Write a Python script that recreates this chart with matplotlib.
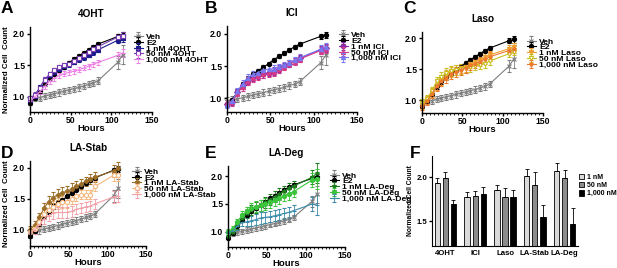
import matplotlib
matplotlib.use("Agg")
import matplotlib.pyplot as plt
from matplotlib.ticker import MultipleLocator

plt.rcParams["font.family"] = ["Liberation Sans", "DejaVu Sans"]
plt.rcParams["font.weight"] = "bold"
plt.rcParams["axes.labelweight"] = "bold"
plt.rcParams["axes.titleweight"] = "bold"

# time points (hours)
HOURS = [0, 6, 12, 18, 24, 30, 36, 42, 48, 54, 60, 66, 72, 78, 84, 108, 114]

# shared controls
VEH = [0.96, 0.98, 0.99, 1.01, 1.03, 1.05, 1.07, 1.09, 1.11, 1.13, 1.15, 1.17, 1.20, 1.22, 1.26, 1.55, 1.67]
VEH_ERR = [0.06, 0.05, 0.05, 0.05, 0.05, 0.05, 0.05, 0.05, 0.05, 0.05, 0.05, 0.05, 0.05, 0.05, 0.05, 0.10, 0.15]
E2 = [0.90, 0.98, 1.10, 1.22, 1.30, 1.37, 1.43, 1.48, 1.54, 1.60, 1.65, 1.70, 1.75, 1.80, 1.84, 1.96, 1.98]
E2_ERR = [0.03, 0.03, 0.04, 0.04, 0.04, 0.04, 0.03, 0.03, 0.03, 0.03, 0.03, 0.03, 0.03, 0.03, 0.03, 0.04, 0.05]

# A: 4OHT
OHT_1 = [0.95, 1.02, 1.15, 1.27, 1.35, 1.40, 1.45, 1.49, 1.52, 1.56, 1.60, 1.63, 1.67, 1.71, 1.75, 1.90, 1.93]
OHT_50 = [0.98, 1.03, 1.14, 1.27, 1.36, 1.42, 1.47, 1.50, 1.53, 1.57, 1.62, 1.66, 1.71, 1.76, 1.80, 1.95, 1.97]
OHT_1000 = [0.93, 1.00, 1.08, 1.17, 1.25, 1.30, 1.34, 1.37, 1.39, 1.41, 1.43, 1.46, 1.49, 1.52, 1.55, 1.66, 1.70]
OHT_ERR = [0.04, 0.04, 0.04, 0.04, 0.04, 0.04, 0.04, 0.04, 0.04, 0.04, 0.04, 0.04, 0.04, 0.04, 0.04, 0.05, 0.06]

# B: ICI
ICI_1 = [0.92, 0.95, 1.10, 1.20, 1.28, 1.33, 1.36, 1.38, 1.40, 1.42, 1.46, 1.50, 1.54, 1.58, 1.62, 1.75, 1.78]
ICI_50 = [0.93, 0.94, 1.08, 1.18, 1.27, 1.32, 1.35, 1.37, 1.39, 1.41, 1.45, 1.49, 1.53, 1.57, 1.61, 1.74, 1.77]
ICI_1000 = [0.90, 0.96, 1.11, 1.22, 1.32, 1.37, 1.40, 1.44, 1.45, 1.46, 1.49, 1.52, 1.55, 1.59, 1.63, 1.76, 1.80]
ICI_ERR = [0.05, 0.05, 0.05, 0.06, 0.06, 0.06, 0.06, 0.06, 0.06, 0.06, 0.05, 0.05, 0.05, 0.05, 0.05, 0.06, 0.06]

# C: Laso
LASO_1 = [0.92, 1.00, 1.12, 1.24, 1.33, 1.40, 1.46, 1.49, 1.51, 1.54, 1.58, 1.62, 1.65, 1.69, 1.73, 1.83, 1.86]
LASO_50 = [0.95, 1.02, 1.14, 1.30, 1.38, 1.43, 1.47, 1.49, 1.50, 1.51, 1.53, 1.55, 1.57, 1.59, 1.63, 1.75, 1.78]
LASO_1000 = [0.90, 0.98, 1.10, 1.22, 1.30, 1.36, 1.42, 1.45, 1.48, 1.52, 1.56, 1.59, 1.62, 1.66, 1.70, 1.80, 1.82]
LASO_ERR = [0.06, 0.06, 0.07, 0.08, 0.08, 0.08, 0.08, 0.08, 0.08, 0.08, 0.07, 0.07, 0.07, 0.07, 0.07, 0.06, 0.06]

# D: LA-Stab
STAB_1 = [1.00, 1.08, 1.20, 1.35, 1.45, 1.52, 1.57, 1.60, 1.62, 1.66, 1.70, 1.74, 1.78, 1.82, 1.85, 1.95, 2.00]
STAB_50 = [0.97, 1.02, 1.12, 1.25, 1.32, 1.37, 1.42, 1.45, 1.45, 1.50, 1.55, 1.57, 1.57, 1.57, 1.70, 1.88, 1.88]
STAB_1000 = [0.95, 1.00, 1.08, 1.18, 1.23, 1.27, 1.28, 1.28, 1.28, 1.30, 1.33, 1.35, 1.37, 1.38, 1.42, 1.53, 1.55]
STAB_ERR = [0.06, 0.06, 0.07, 0.08, 0.09, 0.09, 0.09, 0.09, 0.09, 0.09, 0.08, 0.08, 0.08, 0.08, 0.08, 0.09, 0.10]

# E: LA-Deg
DEG_1 = [0.93, 1.00, 1.12, 1.25, 1.33, 1.39, 1.44, 1.48, 1.53, 1.58, 1.63, 1.68, 1.73, 1.78, 1.82, 1.98, 2.05]
DEG_50 = [1.00, 1.05, 1.18, 1.30, 1.37, 1.42, 1.45, 1.48, 1.50, 1.53, 1.57, 1.60, 1.65, 1.68, 1.72, 1.93, 1.95]
DEG_1000 = [0.98, 1.02, 1.10, 1.17, 1.18, 1.20, 1.22, 1.25, 1.26, 1.27, 1.29, 1.31, 1.33, 1.35, 1.38, 1.50, 1.48]
DEG_ERR = [0.05, 0.05, 0.06, 0.07, 0.08, 0.09, 0.10, 0.10, 0.10, 0.10, 0.10, 0.10, 0.10, 0.10, 0.10, 0.12, 0.18]

# F: endpoint bars
DRUGS = ["4OHT", "ICI", "Laso", "LA-Stab", "LA-Deg"]
DOSES = ["1 nM", "50 nM", "1,000 nM"]
BAR_1 = [1.93, 1.78, 1.85, 2.01, 2.07]
BAR_50 = [1.99, 1.79, 1.78, 1.91, 1.99]
BAR_1000 = [1.70, 1.81, 1.77, 1.55, 1.47]
BAR_1_ERR = [0.06, 0.05, 0.06, 0.08, 0.09]
BAR_50_ERR = [0.07, 0.05, 0.10, 0.15, 0.09]
BAR_1000_ERR = [0.04, 0.08, 0.09, 0.13, 0.18]

W, H = 617, 268


def rect(left, top, right, bottom):
    return [left / W, 1 - bottom / H, (right - left) / W, (bottom - top) / H]


def growth_panel(fig, box, title, series, ylim, leg_at, ylabel=False):
    ax = fig.add_axes(rect(*box))
    for label, y, err, color, marker, mfc in series:
        ax.errorbar(HOURS, y, yerr=err, color=color, marker=marker, ms=3,
                    mfc=mfc, mec=color, mew=0.8, lw=0.8, elinewidth=0.6,
                    capsize=1.5, capthick=0.6, label=label, clip_on=False)
    ax.set_xlim(0, 150)
    ax.set_ylim(*ylim)
    ax.set_yticks([1.0, 1.5, 2.0])
    ax.xaxis.set_major_locator(MultipleLocator(50))
    ax.xaxis.set_minor_locator(MultipleLocator(5))
    ax.tick_params(labelsize=6.2, width=1, length=2.5, pad=1)
    ax.tick_params(axis="x", pad=0.5)
    ax.tick_params(which="minor", width=0.6, length=1.5)
    for s in ["top", "right"]:
        ax.spines[s].set_visible(False)
    for s in ["left", "bottom"]:
        ax.spines[s].set_linewidth(1)
    ax.set_xlabel("Hours", fontsize=6.8, labelpad=-0.5)
    if ylabel:
        ax.set_ylabel("Normalized Cell  Count", fontsize=5.7, labelpad=2)
    ax.set_title(title, fontsize=7.2, pad=7.5)
    ax.legend(loc="upper left", bbox_to_anchor=leg_at, frameon=False,
              fontsize=6.1, handlelength=1.1, handletextpad=0.35,
              labelspacing=-0.25, borderpad=0, borderaxespad=0)
    return ax


fig = plt.figure(figsize=(W / 100, H / 100), dpi=100)

base = [("Veh", VEH, VEH_ERR, "#7f7f7f", "x", "#7f7f7f"),
        ("E2", E2, E2_ERR, "#000000", "o", "#000000")]

growth_panel(fig, (30, 27, 152, 112), "4OHT", base + [
    ("1 nM 4OHT", OHT_1, OHT_ERR, "#1c1c8c", "s", "#1c1c8c"),
    ("50 nM 4OHT", OHT_50, OHT_ERR, "#7a3fb0", "s", "white"),
    ("1,000 nM 4OHT", OHT_1000, OHT_ERR, "#ee82e6", "_", "#ee82e6"),
], (0.76, 2.11), (0.85, 0.93), ylabel=True)

growth_panel(fig, (227, 26, 357, 112), "ICI", base + [
    ("1 nM ICI", ICI_1, ICI_ERR, "#8a2aa8", "D", "#8a2aa8"),
    ("50 nM ICI", ICI_50, ICI_ERR, "#d63a86", "^", "#d63a86"),
    ("1,000 nM ICI", ICI_1000, ICI_ERR, "#7878f0", "^", "#7878f0"),
], (0.79, 2.12), (0.86, 0.94))

growth_panel(fig, (422, 32, 543, 113), "Laso", base + [
    ("1 nM Laso", LASO_1, LASO_ERR, "#f0a030", "v", "#f0a030"),
    ("50 nM Laso", LASO_50, LASO_ERR, "#c8c020", "v", "white"),
    ("1,000 nM Laso", LASO_1000, LASO_ERR, "#ec7a2a", "*", "#ec7a2a"),
], (0.79, 2.1), (0.865, 0.93))

growth_panel(fig, (30, 161, 146, 246), "LA-Stab", base + [
    ("1 nM LA-Stab", STAB_1, STAB_ERR, "#9c6e28", "P", "#9c6e28"),
    ("50 nM LA-Stab", STAB_50, STAB_ERR, "#f5b77e", "o", "white"),
    ("1,000 nM LA-Stab", STAB_1000, STAB_ERR, "#f4a0a8", "_", "#f4a0a8"),
], (0.74, 2.11), (0.88, 0.92), ylabel=True)

growth_panel(fig, (228, 166, 345, 247), "LA-Deg", base + [
    ("1 nM LA-Deg", DEG_1, DEG_ERR, "#1f7f1f", "*", "#1f7f1f"),
    ("50 nM LA-Deg", DEG_50, DEG_ERR, "#3cc43c", "o", "#3cc43c"),
    ("1,000 nM LA-Deg", DEG_1000, DEG_ERR, "#3a8caa", "_", "#3a8caa"),
], (0.73, 2.18), (0.87, 0.93))

# F: bar chart
axf = fig.add_axes(rect(432, 156, 578, 246))
bw = 0.18
offsets = [-0.27, 0.0, 0.27]
bar_sets = [(BAR_1, BAR_1_ERR, "#d9d9d9"), (BAR_50, BAR_50_ERR, "#8c8c8c"),
            (BAR_1000, BAR_1000_ERR, "#000000")]
for (vals, errs, col), off, dose in zip(bar_sets, offsets, DOSES):
    xs = [i + off for i in range(len(DRUGS))]
    axf.bar(xs, vals, width=bw, color=col, edgecolor="black", linewidth=0.6,
            label=dose)
    axf.errorbar(xs, vals, yerr=[[0] * len(errs), errs], fmt="none",
                 ecolor="black", elinewidth=0.6, capsize=1.5, capthick=0.6)
axf.set_xlim(-0.45, 4.45)
axf.set_ylim(1.22, 2.24)
axf.set_yticks([1.5, 2.0])
axf.set_xticks(range(len(DRUGS)))
axf.set_xticklabels(DRUGS)
axf.tick_params(labelsize=5.6, width=1, length=2.5, pad=1)
axf.tick_params(axis="x", length=0, pad=3)
for s in ["top", "right"]:
    axf.spines[s].set_visible(False)
axf.set_ylabel("Normalized Cell Count", fontsize=4.8, labelpad=1.5)
axf.legend(loc="upper left", bbox_to_anchor=(1.005, 0.8), frameon=False,
           fontsize=5.0, handlelength=0.8, handleheight=0.8,
           handletextpad=0.4, labelspacing=0.15, borderpad=0, borderaxespad=0)

# panel letters
for letter, x, y in [("A", 1, 1), ("B", 205, 1), ("C", 403, 1),
                     ("D", 1, 146), ("E", 205, 146), ("F", 410, 146)]:
    fig.text(x / W, 1 - y / H, letter, fontsize=12.5, fontweight="bold",
             va="top", ha="left")

fig.savefig("out.png", dpi=100)
